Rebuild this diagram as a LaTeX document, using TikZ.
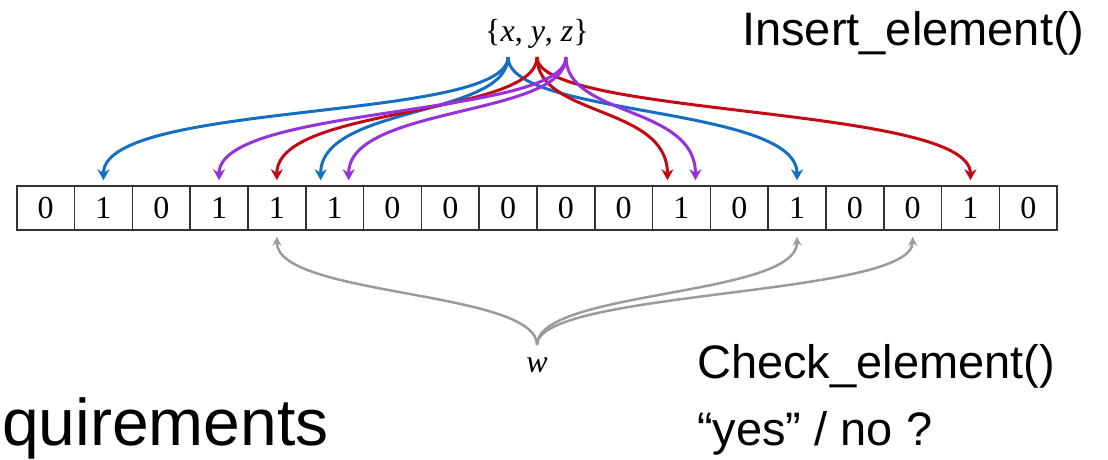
\documentclass[tikz,border=0pt]{standalone}
\usepackage{fontspec}
\setmainfont{Liberation Serif}
\newfontfamily\arialf{Liberation Sans}
\usetikzlibrary{arrows.meta}
\definecolor{cblue}{RGB}{20,110,195}
\definecolor{cred}{RGB}{195,10,20}
\definecolor{cpurple}{RGB}{150,50,220}
\definecolor{cgray}{RGB}{155,155,155}
\begin{document}
\begin{tikzpicture}[x=1pt,y=-1pt,
  cell/.style={draw=black!80,line width=1.5pt,minimum width=57.8pt,minimum height=44pt,inner sep=0pt,anchor=west,font=\fontsize{32}{32}\selectfont},
  con/.style={line width=3pt,-{Stealth[length=11pt,width=12pt]}},
  gcon/.style={cgray,line width=2.5pt,-{Stealth[length=9pt,width=9pt]}},
  sans/.style={font=\arialf\fontsize{47}{47}\selectfont,anchor=base west,inner sep=0pt},
  ser/.style={font=\fontsize{32}{32}\selectfont,inner sep=0pt}]
\useasboundingbox (0,0) rectangle (1108,459);
\foreach \v [count=\i from 0] in {0,1,0,1,1,1,0,0,0,0,0,1,0,1,0,0,1,0}
  \node[cell] (c\i) at ({16+57.8*\i},208) {\v};
\node[ser] (xyz) at (537,34) {\{\textit{x}, \textit{y}, \textit{z}\}};
\coordinate (sx) at (508,57);
\coordinate (sy) at (537,57);
\coordinate (sz) at (566,57);
\node[ser] (w) at (537,365) {\textit{w}};
\coordinate (sw) at (537,345);
% x -> blue
\draw[con,cblue] (sx) .. controls +(0,65) and +(0,-80) .. ([yshift=5pt]c1.north);
\draw[con,cblue] (sx) .. controls +(0,60) and +(0,-75) .. ([xshift=-14pt,yshift=5pt]c5.north);
\draw[con,cblue] (sx) .. controls +(0,60) and +(0,-75) .. ([yshift=5pt]c13.north);
% y -> red
\draw[con,cred] (sy) .. controls +(0,60) and +(0,-75) .. ([yshift=5pt]c4.north);
\draw[con,cred] (sy) .. controls +(0,60) and +(0,-75) .. ([xshift=-14pt,yshift=5pt]c11.north);
\draw[con,cred] (sy) .. controls +(0,60) and +(0,-75) .. ([yshift=5pt]c16.north);
% z -> purple
\draw[con,cpurple] (sz) .. controls +(0,60) and +(0,-75) .. ([yshift=5pt]c3.north);
\draw[con,cpurple] (sz) .. controls +(0,60) and +(0,-75) .. ([xshift=14pt,yshift=5pt]c5.north);
\draw[con,cpurple] (sz) .. controls +(0,60) and +(0,-75) .. ([xshift=14pt,yshift=5pt]c11.north);
% w -> gray
\draw[gcon] (sw) .. controls +(0,-55) and +(0,60) .. ([yshift=-6pt]c4.south);
\draw[gcon] (sw) .. controls +(0,-55) and +(0,60) .. ([yshift=-6pt]c13.south);
\draw[gcon] (sw) .. controls +(0,-55) and +(0,60) .. ([yshift=-6pt]c15.south);
\node[sans] (ins) at (742,45) {Insert\_element()};
\node[sans] (chk) at (697,378) {Check\_element()};
\node[sans] (yn) at (697,445) {“yes” / no ?};
\node[sans,font=\arialf\fontsize{66}{66}\selectfont] (req) at (2,445) {quirements};
\end{tikzpicture}
\end{document}
